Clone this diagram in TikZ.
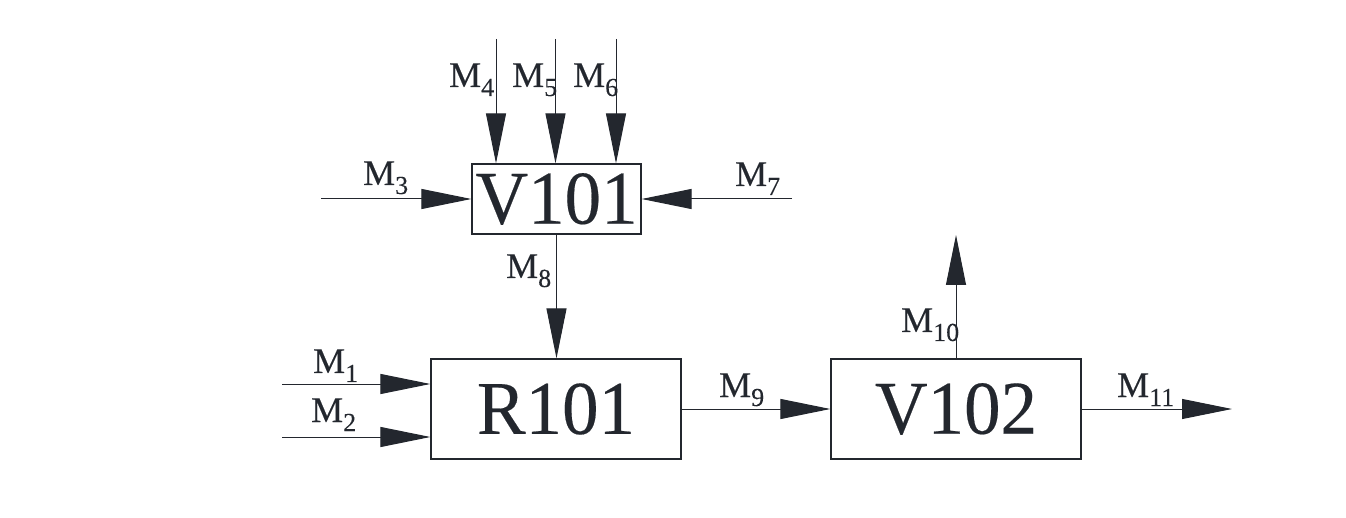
\documentclass[tikz,border=0pt]{standalone}
\usepackage{fontspec}
\setmainfont{Liberation Serif}[FakeBold=0.2]
\newfontfamily\boxfont{Liberation Serif}[FakeBold=0.25,FakeStretch=0.96]
\usetikzlibrary{arrows.meta}
\definecolor{ink}{RGB}{35,39,46}
\newcommand\lsub[1]{\raisebox{-9pt}{\fontsize{26}{26}\selectfont #1}}
\begin{document}
\begin{tikzpicture}[x=1pt,y=-1pt,
  box/.style={draw=ink, line width=1.2pt, inner sep=0pt, text=ink,
    font=\boxfont\fontsize{76}{76}\selectfont},
  flow/.style={draw=ink, line width=1pt, -{Triangle[length=50pt,width=20pt]}},
  lab/.style={text=ink, anchor=base west, inner sep=0pt,
    font=\fontsize{36}{36}\selectfont}]
\useasboundingbox (0,0) rectangle (1346,518);
% boxes
\node[box, minimum width=169pt, minimum height=70pt] (V101) at (556.5,199) {V101};
\node[box, minimum width=250pt, minimum height=100pt] (R101) at (556,409) {R101};
\node[box, minimum width=250pt, minimum height=100pt] (V102) at (956,409) {V102};
% free ends
\coordinate (s4) at (496,39);
\coordinate (s5) at (555.5,39);
\coordinate (s6) at (616,39);
\coordinate (s3) at (321,199);
\coordinate (s7) at (792,199);
\coordinate (s1) at (282,384);
\coordinate (s2) at (282,437);
\coordinate (e10) at (956,235);
\coordinate (e11) at (1232,409);
% connectors
\draw[flow] (s4) -- (s4 |- V101.north);
\draw[flow] (s5) -- (s5 |- V101.north);
\draw[flow] (s6) -- (s6 |- V101.north);
\draw[flow] (s3) -- (V101.west);
\draw[flow] (s7) -- (V101.east);
\draw[flow] (V101.south) -- (V101.south |- R101.north);
\draw[flow] (s1) -- (s1 -| R101.west);
\draw[flow] (s2) -- (s2 -| R101.west);
\draw[flow] (R101.east) -- (V102.west);
\draw[flow] (V102.north) -- (e10);
\draw[flow] (V102.east) -- (e11);
% labels
\node[lab] (L4) at (449,87) {M\lsub{4}};
\node[lab] (L5) at (512,87) {M\lsub{5}};
\node[lab] (L6) at (573,87) {M\lsub{6}};
\node[lab] (L3) at (363,185) {M\lsub{3}};
\node[lab] (L7) at (735,186) {M\lsub{7}};
\node[lab] (L8) at (506,278) {M\lsub{8}};
\node[lab] (L1) at (313,373) {M\lsub{1}};
\node[lab] (L2) at (311,422) {M\lsub{2}};
\node[lab] (L9) at (719,397) {M\lsub{9}};
\node[lab] (L10) at (901,332) {M\lsub{10}};
\node[lab] (L11) at (1117,397) {M\lsub{11}};
\end{tikzpicture}
\end{document}
